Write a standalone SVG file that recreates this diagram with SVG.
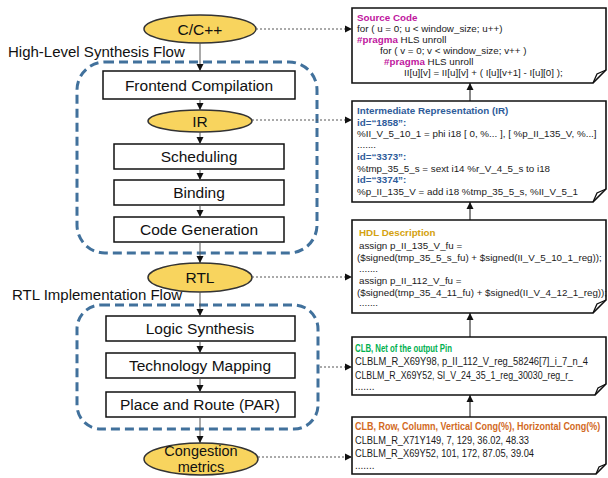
<svg xmlns="http://www.w3.org/2000/svg" width="608" height="478" viewBox="0 0 608 478">
<style>
.lbl{font-family:"Liberation Sans",Arial,sans-serif;font-size:15.5px;fill:#111;text-anchor:middle}
.flow{font-family:"Liberation Sans",Arial,sans-serif;font-size:15px;fill:#111}
.box{fill:#fff;stroke:#111;stroke-width:1.5}
.ell{fill:#F8D45E;stroke:#333;stroke-width:1.5}
.grp{fill:none;stroke:#41719C;stroke-width:3;stroke-dasharray:9 5}
.doc{fill:#fff;stroke:#111;stroke-width:1.6}
.fold{fill:none;stroke:#111;stroke-width:1.3}
.code{font-family:"Liberation Sans",Arial,sans-serif;font-size:9.8px;fill:#1a1a1a}
.cl{font-family:"Liberation Sans",Arial,sans-serif;font-size:10px;fill:#1a1a1a}
.t{font-weight:bold}
.mag{fill:#C0169E;font-weight:bold}
.blu{fill:#2E5C9A;font-weight:bold}
.sol{stroke:#555;stroke-width:1;fill:none}
.dot{stroke:#555;stroke-width:1;stroke-dasharray:2 2;fill:none}
.up{stroke:#111;stroke-width:1;fill:none}
</style>
<defs>
<marker id="ah" markerUnits="userSpaceOnUse" markerWidth="8" markerHeight="8" refX="7" refY="4" orient="auto">
<path d="M0,0.5 L7,4 L0,7.5 z" fill="#111"/>
</marker>
</defs>

<!-- group frames -->
<g id="hls-flow">
<rect class="grp" x="77" y="62" width="240" height="191" rx="28"/>
<text class="flow" x="8" y="57">High-Level Synthesis Flow</text>
</g>
<g id="rtl-flow">
<rect class="grp" x="77" y="305" width="241" height="124" rx="24"/>
<text class="flow" x="12" y="300">RTL Implementation Flow</text>
</g>

<!-- left nodes -->
<g id="n-cpp"><ellipse class="ell" cx="200" cy="29" rx="56" ry="14"/><text class="lbl" x="200" y="34.5">C/C++</text></g>
<g id="n-frontend"><rect class="box" x="103" y="71" width="192" height="28"/><text class="lbl" x="199" y="90.5">Frontend Compilation</text></g>
<g id="n-ir"><ellipse class="ell" cx="200" cy="121" rx="52" ry="11"/><text class="lbl" x="200" y="126.5">IR</text></g>
<g id="n-sched"><rect class="box" x="114" y="144" width="170" height="25"/><text class="lbl" x="199" y="162">Scheduling</text></g>
<g id="n-bind"><rect class="box" x="114" y="180" width="170" height="25"/><text class="lbl" x="199" y="198">Binding</text></g>
<g id="n-codegen"><rect class="box" x="114" y="217" width="170" height="25"/><text class="lbl" x="199" y="235">Code Generation</text></g>
<g id="n-rtl"><ellipse class="ell" cx="200" cy="277.5" rx="52" ry="14.5"/><text class="lbl" x="200" y="283">RTL</text></g>
<g id="n-logic"><rect class="box" x="106" y="316" width="189" height="25"/><text class="lbl" x="200" y="334">Logic Synthesis</text></g>
<g id="n-techmap"><rect class="box" x="106" y="353" width="189" height="25"/><text class="lbl" x="200" y="371">Technology Mapping</text></g>
<g id="n-par"><rect class="box" x="106" y="392" width="189" height="25"/><text class="lbl" x="200" y="410">Place and Route (PAR)</text></g>
<g id="n-cong"><ellipse class="ell" cx="201" cy="459" rx="57" ry="16"/><text class="lbl" x="201" y="456" style="font-size:14.5px">Congestion</text><text class="lbl" x="201" y="472" style="font-size:14.5px">metrics</text></g>

<!-- right document nodes -->
<g id="d-source">
<path class="doc" d="M352,8 H606 V70 L593,83 H352 Z"/>
<path class="fold" d="M593,83 L597,74 L606,70"/>
<text class="code" x="357" y="20.5"><tspan class="mag">Source Code</tspan></text>
<text class="code" x="357" y="31.5">for ( u = 0; u &lt; window_size; u++)</text>
<text class="code" x="357" y="42.5"><tspan class="mag">#pragma</tspan> HLS unroll</text>
<text class="code" x="380" y="53.5">for ( v = 0; v &lt; window_size; v++ )</text>
<text class="code" x="384" y="64.5"><tspan class="mag">#pragma</tspan> HLS unroll</text>
<text class="code" x="404" y="75.5">II[u][v] = II[u][v] + ( I[u][v+1] - I[u][0] );</text>
</g>
<g id="d-ir">
<path class="doc" d="M352,101 H606 V189 L593,202 H352 Z"/>
<path class="fold" d="M593,202 L597,193 L606,189"/>
<text class="code blu" x="357" y="113.5">Intermediate Representation (IR)</text>
<text class="code blu" x="357" y="125.5">id=“1858”:</text>
<text class="code" x="357" y="137">%II_V_5_10_1 = phi i18 [ 0, %... ], [ %p_II_135_V, %...]</text>
<text class="code" x="357" y="148">.......</text>
<text class="code blu" x="357" y="160">id=“3373”:</text>
<text class="code" x="357" y="171.5">%tmp_35_5_s = sext i14 %r_V_4_5_s to i18</text>
<text class="code blu" x="357" y="183">id=“3374”:</text>
<text class="code" x="357" y="195">%p_II_135_V = add i18 %tmp_35_5_s, %II_V_5_1</text>
</g>
<g id="d-hdl">
<path class="doc" d="M352,220 H606 V300 L593,313 H352 Z"/>
<path class="fold" d="M593,313 L597,304 L606,300"/>
<text class="code" x="359" y="235.5" style="fill:#D4A20E;font-weight:bold">HDL Description</text>
<text class="code" x="359" y="248.5">assign p_II_135_V_fu =</text>
<text class="code" x="357" y="260.5">($signed(tmp_35_5_s_fu)  + $signed(II_V_5_10_1_reg));</text>
<text class="code" x="359" y="271.5">.......</text>
<text class="code" x="359" y="283.5">assign p_II_112_V_fu =</text>
<text class="code" x="357" y="295.5">($signed(tmp_35_4_11_fu) + $signed(II_V_4_12_1_reg));</text>
<text class="code" x="359" y="306">.......</text>
</g>
<g id="d-clb">
<path class="doc" d="M352,337 H606 V384 L595,395 H352 Z"/>
<path class="fold" d="M595,395 L598,388 L606,384"/>
<text class="cl t" x="355" y="351.5" style="fill:#00B050" textLength="97" lengthAdjust="spacingAndGlyphs">CLB, Net of the output Pin</text>
<text class="cl" x="355" y="365" textLength="233" lengthAdjust="spacingAndGlyphs">CLBLM_R_X69Y98, p_II_112_V_reg_58246[7]_i_7_n_4</text>
<text class="cl" x="355" y="378.5" textLength="218" lengthAdjust="spacingAndGlyphs">CLBLM_R_X69Y52, SI_V_24_35_1_reg_30030_reg_r_</text>
<text class="cl" x="355" y="390">.......</text>
</g>
<g id="d-cong">
<path class="doc" d="M352,417 H606 V464 L596,474 H352 Z"/>
<path class="fold" d="M596,474 L599,467 L606,464"/>
<text class="cl t" transform="translate(355,430) scale(0.9,1)" style="fill:#D2691E">CLB, Row, Column, Vertical Cong(%), Horizontal Cong(%)</text>
<text class="cl" x="355" y="443.5" textLength="174" lengthAdjust="spacingAndGlyphs">CLBLM_R_X71Y149, 7, 129, 36.02, 48.33</text>
<text class="cl" x="355" y="456.5" textLength="179" lengthAdjust="spacingAndGlyphs">CLBLM_R_X69Y52, 101, 172, 87.05, 39.04</text>
<text class="cl" x="355" y="469">.......</text>
</g>

<!-- connectors -->
<g id="connectors">
<line class="sol" x1="200" y1="43" x2="200" y2="71" marker-end="url(#ah)"/>
<line class="sol" x1="200" y1="99" x2="200" y2="110" marker-end="url(#ah)"/>
<line class="sol" x1="200" y1="132" x2="200" y2="144" marker-end="url(#ah)"/>
<line class="sol" x1="200" y1="169" x2="200" y2="180" marker-end="url(#ah)"/>
<line class="sol" x1="200" y1="205" x2="200" y2="217" marker-end="url(#ah)"/>
<line class="sol" x1="200" y1="242" x2="200" y2="263" marker-end="url(#ah)"/>
<line class="sol" x1="200" y1="292" x2="200" y2="316" marker-end="url(#ah)"/>
<line class="sol" x1="200" y1="341" x2="200" y2="353" marker-end="url(#ah)"/>
<line class="sol" x1="200" y1="378" x2="200" y2="392" marker-end="url(#ah)"/>
<line class="sol" x1="200" y1="417" x2="200" y2="443" marker-end="url(#ah)"/>

<line class="dot" x1="256" y1="29" x2="352" y2="29" marker-end="url(#ah)"/>
<line class="dot" x1="252" y1="120" x2="352" y2="120" marker-end="url(#ah)"/>
<line class="dot" x1="252" y1="277" x2="352" y2="277" marker-end="url(#ah)"/>
<line class="dot" x1="320" y1="367" x2="352" y2="367" marker-end="url(#ah)"/>
<line class="dot" x1="258" y1="457" x2="352" y2="457" marker-end="url(#ah)"/>

<line class="up" x1="470" y1="101" x2="470" y2="83" marker-end="url(#ah)"/>
<line class="up" x1="470" y1="220" x2="470" y2="202" marker-end="url(#ah)"/>
<line class="up" x1="470" y1="337" x2="470" y2="313" marker-end="url(#ah)"/>
<line class="up" x1="470" y1="417" x2="470" y2="395" marker-end="url(#ah)"/>
</g>
</svg>
